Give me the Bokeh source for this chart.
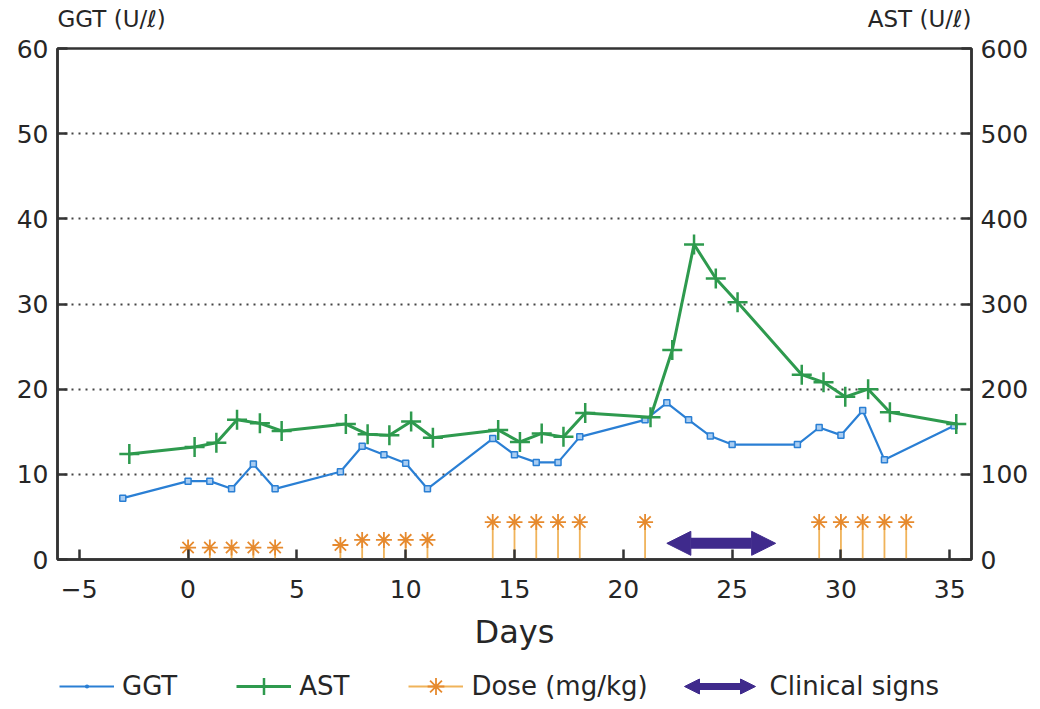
from bokeh.plotting import figure
from bokeh.layouts import column
from bokeh.models import (Range1d, LinearAxis, FixedTicker, Legend, LegendItem,
                          Arrow, NormalHead)
from bokeh.core.properties import value
from bokeh.embed import file_html
from bokeh.resources import INLINE

# ---------------- data ----------------
ggt_days = [-3, 0, 1, 2, 3, 4, 7, 8, 9, 10, 11, 14, 15, 16, 17, 18, 21, 22, 23, 24, 25,
            28, 29, 30, 31, 32, 35.2]
ggt_values = [7.2, 9.2, 9.2, 8.3, 11.2, 8.3, 10.3, 13.3, 12.3, 11.3, 8.3, 14.2, 12.3, 11.4,
              11.4, 14.4, 16.4, 18.4, 16.4, 14.5, 13.5, 13.5, 15.5, 14.6, 17.5, 11.7, 15.7]

ast_days = [-2.7, 0.3, 1.3, 2.25, 3.3, 4.3, 7.25, 8.25, 9.25, 10.25, 11.25, 14.25, 15.25,
            16.25, 17.25, 18.25, 21.25, 22.25, 23.25, 24.25, 25.25, 28.2, 29.2, 30.2,
            31.25, 32.25, 35.3]
ast_values = [124, 132, 137, 164, 160, 151, 159, 147, 146, 162, 143, 152, 138, 148, 144,
              172, 167, 246, 370, 330, 302, 217, 208, 191, 200, 173, 159]

dose_days = [0, 1, 2, 3, 4, 7, 8, 9, 10, 11, 14, 15, 16, 17, 18, 21, 29, 30, 31, 32, 33]
dose_marks = [1.4, 1.4, 1.4, 1.4, 1.4, 1.7, 2.3, 2.3, 2.3, 2.3, 4.4, 4.4, 4.4, 4.4, 4.4,
              4.4, 4.4, 4.4, 4.4, 4.4, 4.4]
dose_base = [0] * len(dose_days)

clinical_start = 22
clinical_end = 27
clinical_level = 1.9

x_ticks = [-5, 0, 5, 10, 15, 20, 25, 30, 35]
ggt_ticks = [0, 10, 20, 30, 40, 50, 60]
ast_ticks = [0, 100, 200, 300, 400, 500, 600]
grid_levels = [10, 20, 30, 40, 50]

ggt_title = "GGT (U/ℓ)"
ast_title = "AST (U/ℓ)"
legend_labels = ["GGT", "AST", "Dose (mg/kg)", "Clinical signs"]

# ---------------- style ----------------
FONT = "DejaVu Sans"
TXT = "#262626"
DARK = "#333333"
BLUE = "#2A7FD4"
GREEN = "#2E9A4E"
ORANGE = "#E68A2E"
STEM = "#F0B35A"
PURPLE = "#3F2A8C"
W = 1040
BL, BR = 57, 69          # left / right borders shared by all three strips
TOP_H, MAIN_H = 33, 626
LEG_H = 709 - TOP_H - MAIN_H
NAN = float("nan")

x_range = Range1d(-6, 36)


def strip(h, xr, yr):
    f = figure(width=W, height=h, x_range=xr, y_range=yr, title=None,
               output_backend="svg", toolbar_location=None,
               x_axis_type=None, y_axis_type=None,
               min_border_left=BL, min_border_right=BR, min_border_top=0,
               min_border_bottom=0)
    f.outline_line_color = None
    f.grid.visible = False
    f.background_fill_color = "white"
    f.border_fill_color = "white"
    return f


# ---------------- top strip with the axis titles ----------------
top = strip(TOP_H, x_range, Range1d(0, TOP_H))
top.text(x=[x_range.start], y=[14.5], text=[ggt_title], text_font=value(FONT),
         text_font_size="23px", text_color=TXT, text_align="left",
         text_baseline="middle")
top.text(x=[x_range.end], y=[14.5], text=[ast_title], text_font=value(FONT),
         text_font_size="23px", text_color=TXT, text_align="right",
         text_baseline="middle")

# ---------------- main plot ----------------
p = figure(width=W, height=MAIN_H, x_range=x_range, y_range=Range1d(0, 60), title=None,
           output_backend="svg", toolbar_location=None,
           min_border_left=BL, min_border_right=BR, min_border_top=15,
           min_border_bottom=100)
p.extra_y_ranges = {"ast": Range1d(0, 600)}
p.background_fill_color = "white"
p.border_fill_color = "white"
p.outline_line_color = DARK
p.outline_line_width = 2.5

p.xgrid.visible = False
p.ygrid.ticker = FixedTicker(ticks=grid_levels)
p.ygrid.grid_line_color = "#444444"
p.ygrid.grid_line_dash = "2 5"
p.ygrid.grid_line_width = 2.2

p.xaxis.ticker = FixedTicker(ticks=x_ticks)
p.yaxis.ticker = FixedTicker(ticks=ggt_ticks)
right_axis = LinearAxis(y_range_name="ast", ticker=FixedTicker(ticks=ast_ticks))
p.add_layout(right_axis, "right")

for ax in p.axis:
    ax.axis_line_color = DARK
    ax.axis_line_width = 2.5
    ax.major_tick_in = 10
    ax.major_tick_out = 0
    ax.minor_tick_in = 0
    ax.minor_tick_out = 0
    ax.major_tick_line_color = DARK
    ax.major_tick_line_width = 2.5
    ax.major_label_text_font = FONT
    ax.major_label_text_font_size = "25px"
    ax.major_label_text_color = TXT
    ax.major_label_standoff = 9

p.xaxis.major_label_standoff = 20
p.xaxis.axis_label = "Days"
p.xaxis.axis_label_text_font = FONT
p.xaxis.axis_label_text_font_size = "32px"
p.xaxis.axis_label_text_font_style = "normal"
p.xaxis.axis_label_text_color = TXT
p.xaxis.axis_label_standoff = 12

p.segment(x0=dose_days, y0=dose_base, x1=dose_days, y1=dose_marks,
          line_color=STEM, line_width=1.8)
p.scatter(dose_days, dose_marks, marker="asterisk", size=16,
          line_color=ORANGE, line_width=1.8)

p.line(ggt_days, ggt_values, line_color=BLUE, line_width=2.2)
p.scatter(ggt_days, ggt_values, marker="square", size=6,
          fill_color="#a9cdf2", line_color=BLUE, line_width=1.5)

p.line(ast_days, ast_values, y_range_name="ast", line_color=GREEN, line_width=3)
p.scatter(ast_days, ast_values, y_range_name="ast", marker="cross", size=20,
          line_color=GREEN, line_width=2.5)

p.add_layout(Arrow(x_start=clinical_start, y_start=clinical_level,
                   x_end=clinical_end, y_end=clinical_level,
                   line_color=PURPLE, line_width=11,
                   start=NormalHead(size=24, fill_color=PURPLE, line_color=PURPLE),
                   end=NormalHead(size=24, fill_color=PURPLE, line_color=PURPLE)))

# ---------------- legend strip (x in pixels from the frame's left edge) ----------------
frame_w = W - BL - BR
lg = strip(LEG_H, Range1d(0, frame_w), Range1d(0, LEG_H))
g_line = lg.line(x=[NAN], y=[NAN], line_color=BLUE, line_width=2.2)
g_pts = lg.scatter(x=[NAN], y=[NAN], marker="dot", size=14, line_color=BLUE,
                   fill_color=BLUE, line_width=2)
a_line = lg.line(x=[NAN], y=[NAN], line_color=GREEN, line_width=3)
a_pts = lg.scatter(x=[NAN], y=[NAN], marker="cross", size=20, line_color=GREEN,
                   line_width=2.5)
d_stem = lg.line(x=[NAN], y=[NAN], line_color=STEM, line_width=1.8)
d_pts = lg.scatter(x=[NAN], y=[NAN], marker="asterisk", size=16, line_color=ORANGE,
                   line_width=1.8)
c_line = lg.line(x=[NAN], y=[NAN], line_color=PURPLE, line_alpha=0, line_width=1)

LEG_Y = 2
legend = Legend(items=[
    LegendItem(label=legend_labels[0], renderers=[g_line, g_pts]),
    LegendItem(label=legend_labels[1], renderers=[a_line, a_pts]),
    LegendItem(label=legend_labels[2], renderers=[d_stem, d_pts]),
    LegendItem(label=legend_labels[3], renderers=[c_line]),
], location=(2, LEG_Y), orientation="horizontal")
legend.padding = 0
legend.margin = 0
legend.spacing = 59
legend.glyph_width = 55
legend.glyph_height = 42
legend.label_standoff = 8
legend.label_text_font = FONT
legend.label_text_font_size = "26px"
legend.label_text_color = TXT
legend.border_line_color = None
legend.background_fill_alpha = 0
lg.add_layout(legend)

arrow_y = LEG_Y + legend.glyph_height / 2
lg.add_layout(Arrow(x_start=627, y_start=arrow_y, x_end=698, y_end=arrow_y,
                    line_color=PURPLE, line_width=7,
                    start=NormalHead(size=15, fill_color=PURPLE, line_color=PURPLE),
                    end=NormalHead(size=15, fill_color=PURPLE, line_color=PURPLE)))

layout = column(top, p, lg, spacing=0)
open("out.html", "w").write(file_html(layout, INLINE))
